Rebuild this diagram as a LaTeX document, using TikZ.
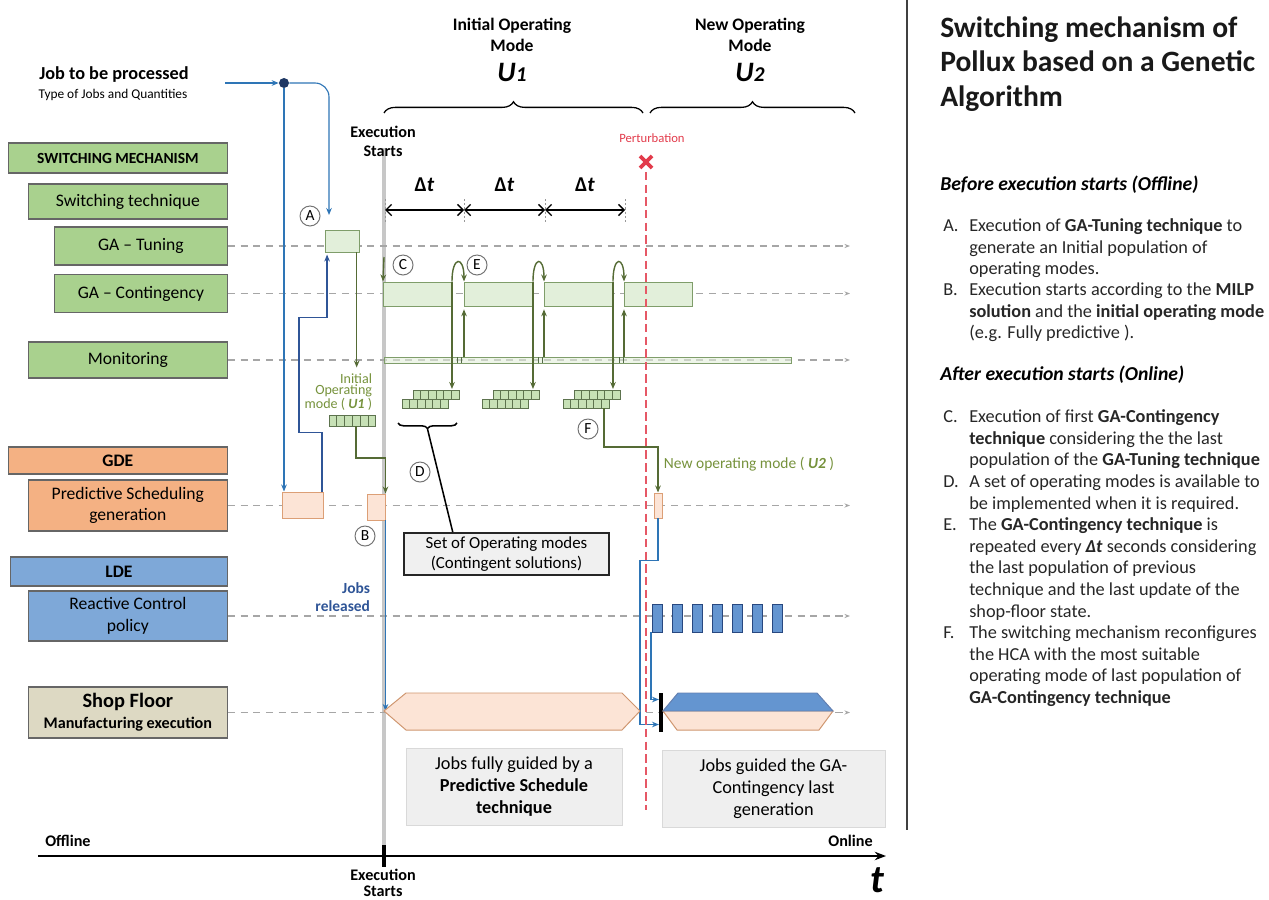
\documentclass[tikz,border=0pt]{standalone}
\usepackage{fontspec}
\setmainfont{Carlito}
\usetikzlibrary{arrows.meta,decorations.pathreplacing,positioning,calc}

\definecolor{swgreen}{HTML}{A9D18E}
\definecolor{gdeorange}{HTML}{F4B183}
\definecolor{ldeblue}{HTML}{7EA8D8}
\definecolor{rcblue}{HTML}{6495D0}
\definecolor{shoptan}{HTML}{DDD9C3}
\definecolor{palegreen}{HTML}{E2EFDA}
\definecolor{paleorange}{HTML}{FCE4D6}
\definecolor{modeline}{HTML}{556B35}
\definecolor{modetext}{HTML}{76923C}
\definecolor{jobblue}{HTML}{2E75B6}
\definecolor{jobdark}{HTML}{2F5597}
\definecolor{hubnavy}{HTML}{1F3864}
\definecolor{perturb}{HTML}{E23B4B}
\definecolor{notegray}{HTML}{EFEFEF}

\newcommand{\pxu}{0.025cm}
\newcommand{\fsz}[2]{\fontsize{#1}{#2}\selectfont}

\tikzset{
  lane/.style={draw=black!60, line width=0.9pt, inner sep=0pt, align=center, anchor=east},
  swlane/.style={lane, fill=swgreen},
  gdelane/.style={lane, fill=gdeorange},
  ldelane/.style={lane, fill=ldeblue},
  shoplane/.style={lane, fill=shoptan},
  rowline/.style={draw=black!35, line width=0.8pt, dash pattern=on 5pt off 4pt, -{Stealth[length=4pt,width=3pt]}},
  gabox/.style={draw=swgreen!75!black, fill=palegreen, inner sep=0pt, line width=0.7pt},
  psbox/.style={draw=gdeorange!90!black, fill=paleorange, inner sep=0pt, line width=0.7pt},
  rcbar/.style={draw=jobdark!85!black, fill=rcblue, inner sep=0pt, line width=0.6pt,
    minimum width=10*\pxu, minimum height=28*\pxu},
  cell/.style={draw=swgreen!55!black, fill=swgreen!65, line width=0.5pt},
  modearrow/.style={draw=modeline, line width=1pt, -{Stealth[length=5pt,width=4pt]}},
  jobarrow/.style={draw=jobblue, line width=0.8pt, -{Stealth[length=5pt,width=4pt]}},
  jobthick/.style={draw=jobdark, line width=1.4pt, -{Stealth[length=5pt,width=4pt]}},
  stepmark/.style={circle, draw=black!55, line width=0.7pt, minimum size=20*\pxu, inner sep=0pt, font=\fsz{11}{12}},
  notebox/.style={draw=black!15, fill=notegray, align=center, inner sep=0pt, font=\fsz{13}{15.5}},
  item/.style={anchor=north west, align=left, inner sep=0pt, font=\fsz{13}{15.4}, text=black!85},
  heading/.style={anchor=west, inner sep=0pt, font=\fsz{14}{16}\bfseries\itshape},
}

\begin{document}
\begin{tikzpicture}[x=0.025cm, y=-0.025cm]
\useasboundingbox (0,0) rectangle (1269,900);

% execution starts line
\draw[black!22, line width=2.8pt] (384,148) -- (384,846);

% lanes
\node[swlane, minimum width=219*\pxu, minimum height=30*\pxu, font=\fsz{11}{12}\bfseries] (swmech) at (228,158) {SWITCHING MECHANISM};
\node[swlane, minimum width=199*\pxu, minimum height=35*\pxu, font=\fsz{12.5}{14}] (swtech) at (228,201.5) {Switching technique};
\node[swlane, minimum width=173*\pxu, minimum height=38*\pxu, font=\fsz{12.5}{14}] (gatun) at (228,246) {GA -- Tuning};
\node[swlane, minimum width=173*\pxu, minimum height=38*\pxu, font=\fsz{12.5}{14}] (gacont) at (228,293.5) {GA -- Contingency};
\node[swlane, minimum width=199*\pxu, minimum height=36*\pxu, font=\fsz{12.5}{14}] (monit) at (228,360) {Monitoring};
\node[gdelane, minimum width=219*\pxu, minimum height=27*\pxu, font=\fsz{12.5}{14}\bfseries] (gde) at (228,460.5) {GDE};
\node[gdelane, minimum width=199*\pxu, minimum height=51*\pxu, font=\fsz{12.5}{15.5}] (predsched) at (228,505.5) {Predictive Scheduling\\generation};
\node[ldelane, minimum width=217*\pxu, minimum height=29*\pxu, font=\fsz{12.5}{14}\bfseries] (lde) at (228,571.5) {LDE};
\node[ldelane, minimum width=199*\pxu, minimum height=50*\pxu, font=\fsz{12.5}{15.5}] (reactive) at (228,616) {Reactive Control\\policy};
\node[shoplane, minimum width=199*\pxu, minimum height=51*\pxu, font=\fsz{11.5}{15}\bfseries] (shop) at (228,712.5) {{\fsz{14.5}{16}Shop Floor}\\Manufacturing execution};

\draw[rowline] (gatun.east) -- (850,246);
\draw[rowline] (gacont.east) -- (850,293.5);
\draw[rowline] (monit.east) -- (850,360);
\draw[rowline] (predsched.east) -- (850,505.5);
\draw[rowline] (reactive.east) -- (850,616);
\draw[rowline] (shop.east) -- (850,712.5);

% job input
\node[font=\fsz{13}{15}\bfseries] (job) at (114,75) {Job to be processed};
\node[font=\fsz{9.5}{11}] (jobtype) at (113,95) {Type of Jobs and Quantities};
\coordinate (jobin) at (225,83);
\node[circle, fill=hubnavy, inner sep=0pt, minimum size=10*\pxu] (hub) at (284,83) {};
\draw[jobarrow] (jobin) -- (hub);

% offline blocks
\node[gabox, minimum width=34*\pxu, minimum height=22*\pxu] (tune) at (342,241) {};
\node[psbox, minimum width=41*\pxu, minimum height=26*\pxu] (ps1) at (302.5,505) {};
\node[psbox, minimum width=18*\pxu, minimum height=26*\pxu] (ps2) at (376,507) {};
\coordinate (tuneIn) at (329,215);
\draw[jobarrow, rounded corners=0.35cm] (hub) -| (tuneIn);
\draw[jobarrow] (hub) -- (hub |- ps1.north);
\draw[jobthick] ([xshift=-1pt]ps1.north east) -- ++(0,-59) -- ++(-23,0) -- ++(0,-115) -- ++(28,0) -- ++(0,-63);

% initial operating mode
\draw[modearrow] ([xshift=-2pt]tune.south east) -- ++(0,115);
\node[align=right, anchor=east, text=modetext, font=\fsz{10}{8.3}] (initLbl) at (377,392) {Initial\\Operating\\mode ( \textbf{\textit{U1}} )};
\foreach \k in {0,...,5}
  \draw[cell] (329+\k*7.8,415) rectangle ++(7.8,11);
\coordinate (initmode) at (356,426);
\draw[modearrow] (initmode) -- ++(0,32) -| (ps2.north east);
\coordinate (sfStart) at (384,711);
\draw[jobarrow] (ps2.south east) -- (ps2.south east |- sfStart);

% GA-Contingency runs
\foreach \x [count=\i] in {383,464,544,624}
  \node[gabox, anchor=west, minimum width=68*\pxu, minimum height=24*\pxu] (cont\i) at (\x,294) {};
\node[gabox, anchor=west, minimum width=407*\pxu, minimum height=6*\pxu, fill opacity=0.6] (monbar) at (384,360) {};
\foreach \x in {457,538,619}
  \draw[swgreen!50!black, line width=0.5pt] (\x,357) -- (\x,363) (\x+4,357) -- (\x+4,363);

% sets of operating modes
\foreach \lx [count=\i] in {402,482,563} {
  \foreach \k in {0,...,5} {
    \draw[cell] (\lx+11+\k*7.7,390) rectangle ++(7.7,9);
    \draw[cell] (\lx+\k*7.7,399) rectangle ++(7.7,9);
  }
  \coordinate (set\i) at (\lx+47,389);
}
\foreach \i [evaluate=\i as \j using int(\i+1)] in {1,2,3} {
  \draw[modearrow] (cont\i.north east) .. controls +(0,-26) and +(0,-26) .. (cont\j.north west);
  \draw[modearrow] (cont\i.north east) -- (cont\i.north east |- set\i);
  \draw[modearrow, shorten >=2pt] (monbar.north -| cont\j.south west) -- (cont\j.south west);
}
\coordinate (cStart) at (384,257);
\draw[modearrow] (cStart) -- (cont1.north west);

% delta t
\foreach \x [count=\i from 0] in {385,464,545,625} {
  \coordinate (tick\i) at (\x,210);
  \draw[black!40, line width=0.6pt, dash pattern=on 1.5pt off 1.5pt] (\x,199) -- (\x,222);
}
\foreach \i [evaluate=\i as \j using int(\i+1)] in {0,1,2} {
  \draw[line width=1pt, {Straight Barb[length=4pt]}-{Straight Barb[length=4pt]}] (tick\i) -- (tick\j);
  \node[font=\fsz{15}{17}\bfseries] (dt\i) at ($(tick\i)!0.5!(tick\j)+(0,-25)$) {Δ\textit{t}};
}

% operating mode headers
\node[align=center, font=\fsz{12.5}{15}\bfseries] (initMode) at (512,35) {Initial Operating\\Mode};
\node[font=\fsz{20}{24}\bfseries\itshape] (u1) at (512,72) {U{\fsz{15}{18}1}};
\node[align=center, font=\fsz{12.5}{15}\bfseries] (newMode) at (750,35) {New Operating\\Mode};
\node[font=\fsz{20}{24}\bfseries\itshape] (u2) at (750,72) {U{\fsz{15}{18}2}};
\draw[decorate, decoration={brace, amplitude=8pt}, line width=0.9pt] (384,113) -- (643,113);
\draw[decorate, decoration={brace, amplitude=8pt}, line width=0.9pt] (650,113) -- (855,113);
\node[align=center, font=\fsz{11.5}{13.5}\bfseries] (execTop) at (383,141) {Execution\\Starts};

% perturbation
\node[text=perturb, font=\fsz{9}{10}] (pertLbl) at (652,138) {Perturbation};
\coordinate (pert) at (646,162);
\draw[perturb, line width=2.6pt] ($(pert)+(-6,-6)$) -- ($(pert)+(6,6)$) ($(pert)+(-6,6)$) -- ($(pert)+(6,-6)$);

% step markers
\node[stepmark] (mA) at (310,216) {A};
\node[stepmark] (mB) at (365,536) {B};
\node[stepmark] (mC) at (403,265) {C};
\node[stepmark] (mD) at (420,472) {D};
\node[stepmark] (mE) at (477,265) {E};
\node[stepmark] (mF) at (588,429) {F};

% set of operating modes
\draw[decorate, decoration={brace, amplitude=4pt, mirror}, line width=1.1pt] (398,423) -- (457,423);
\coordinate (dtip) at (427.5,429);
\node[draw=black!85, fill=black!6, line width=1.2pt, minimum width=205*\pxu, minimum height=42*\pxu, align=center, inner sep=0pt, font=\fsz{12}{14}] (setbox) at (506.5,554) {Set of Operating modes\\(Contingent solutions)};
\draw[line width=1.1pt] (dtip) -- ($(setbox.north west)!0.24!(setbox.north east)$);

% new operating mode
\node[psbox, minimum width=8*\pxu, minimum height=25*\pxu] (ps3) at (658,505.5) {};
\coordinate (set3out) at (604,408);
\draw[modearrow] (set3out) -- ++(0,39) -| (ps3.north);
\node[anchor=west, text=modetext, font=\fsz{11}{12}] (newLbl) at (659,464) {New operating mode ( \textbf{\textit{U2}} )};

% reactive control
\foreach \k in {1,...,7}
  \node[rcbar, anchor=west] (rc\k) at (652+20*\k-20,618) {};
\node[fill=black, inner sep=0pt, minimum width=3.5*\pxu, minimum height=39*\pxu] (switchbar) at (661,712.5) {};
\draw[jobarrow] (ps3.south) |- ++(-18,42) |- ([yshift=-12*\pxu]switchbar.west);
\draw[jobarrow] ([xshift=-1*\pxu]rc1.south west) |- ([yshift=13*\pxu]switchbar.west);

% shop floor execution
\draw[draw=gdeorange!85!black, fill=paleorange, line width=0.7pt] (384,711) -- (406,693) -- (622,693) -- (640,711) -- (622,730) -- (406,730) -- cycle;
\draw[draw=gdeorange!85!black, fill=paleorange, line width=0.7pt] (663,711) -- (833,711) -- (819,730) -- (677,730) -- cycle;
\draw[draw=jobdark!75, fill=rcblue, line width=0.7pt] (663,711) -- (678,693) -- (817,693) -- (833,711) -- cycle;
\node[text=jobdark, align=right, anchor=east, font=\fsz{11}{13}\bfseries] (released) at (375,597) {Jobs\\released};

\node[notebox, minimum width=216*\pxu, minimum height=77*\pxu] (guidePS) at (514,786.5) {Jobs fully guided by a\\\textbf{Predictive Schedule}\\\textbf{technique}};
\node[notebox, minimum width=223*\pxu, minimum height=77*\pxu] (guideGA) at (773.5,788.5) {Jobs guided the GA-\\Contingency last\\generation};

% perturbation line
\draw[perturb!85, line width=1pt, dash pattern=on 6pt off 3pt] (646,172) -- (646,810);

% time axis
\coordinate (axStart) at (38,856);
\coordinate (axEnd) at (886,856);
\draw[line width=1.3pt, -{Stealth[length=8pt,width=6pt]}] (axStart) -- (axEnd);
\draw[line width=2.2pt] (384,845) -- (384,867);
\node[anchor=west, inner sep=0pt, font=\fsz{11.5}{13}\bfseries] (offline) at (45,841) {Offline};
\node[anchor=east, inner sep=0pt, font=\fsz{11.5}{13}\bfseries] (online) at (873,841) {Online};
\node[font=\fsz{28}{30}\bfseries\itshape] (tlbl) at (877,880) {t};
\node[anchor=north, align=center, inner sep=0pt, font=\fsz{11.5}{11.5}\bfseries] (execBot) at (383,869) {Execution\\Starts};

% separator
\draw[black!75, line width=1.6pt] (907,0) -- (907,830);

% description
\node[anchor=north west, align=left, inner sep=0pt, font=\fsz{21}{24.8}\bfseries, text=black!90] (title) at (940,16) {Switching mechanism of\\Pollux based on a Genetic\\Algorithm};
\node[heading] (before) at (940,185) {Before execution starts (Offline)};
\node[item] (ltA) at (943,216) {\strut A.};
\node[item] (itA) at (969,216) {\strut Execution of \textbf{GA-Tuning technique} to\\generate an Initial population of\\operating modes.};
\node[item] (ltB) at (943,280) {\strut B.};
\node[item] (itB) at (969,280) {\strut Execution starts according to the \textbf{MILP}\\\textbf{solution} and the \textbf{initial operating mode}\\(e.g. Fully predictive ).};
\node[heading] (after) at (940,375) {After execution starts (Online)};
\node[item] (ltC) at (943,407) {\strut C.};
\node[item] (itC) at (969,407) {\strut Execution of first \textbf{GA-Contingency}\\\textbf{technique} considering the the last\\population of the \textbf{GA-Tuning technique}};
\node[item] (ltD) at (943,472) {\strut D.};
\node[item] (itD) at (969,472) {\strut A set of operating modes is available to\\be implemented when it is required.};
\node[item] (ltE) at (943,515) {\strut E.};
\node[item] (itE) at (969,515) {\strut The \textbf{GA-Contingency technique} is\\repeated every \textbf{\textit{Δt}} seconds considering\\the last population of previous\\technique and the last update of the\\shop-floor state.};
\node[item] (ltF) at (943,623) {\strut F.};
\node[item] (itF) at (969,623) {\strut The switching mechanism reconfigures\\the HCA with the most suitable\\operating mode of last population of\\\textbf{GA-Contingency technique}};
\end{tikzpicture}
\end{document}
